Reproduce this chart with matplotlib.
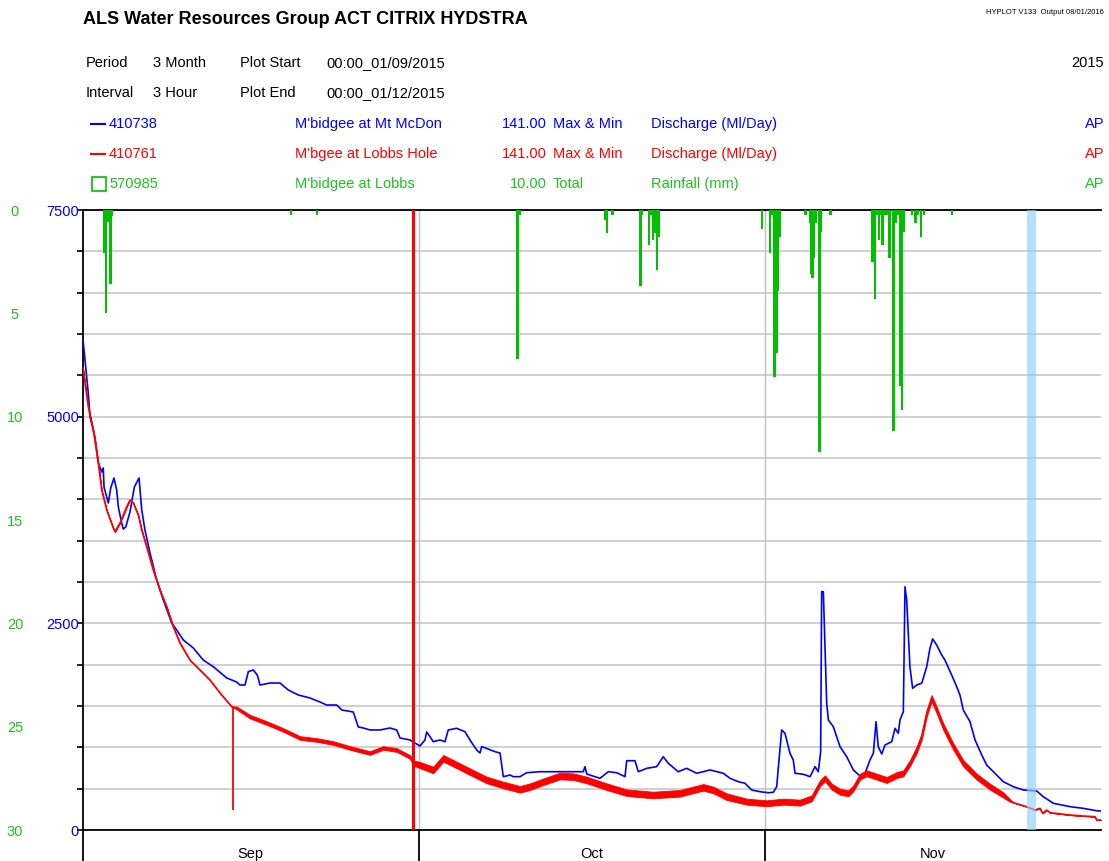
import numpy as np
import matplotlib.pyplot as plt
import matplotlib.ticker as mticker
from matplotlib.lines import Line2D
from matplotlib.patches import Rectangle

plt.rcParams['font.family'] = ['Liberation Sans', 'DejaVu Sans']

# x in days since 00:00 01/09/2015
# 410738 M'bidgee at Mt McDon (Ml/Day)
blue_day = [0.0, 0.47, 0.63, 1.07, 1.37, 1.67, 1.81, 1.88, 2.26, 2.48, 2.77, 3.01, 3.16, 3.46,
            3.60, 3.82, 4.20, 4.59, 5.01, 5.10, 5.25, 5.54, 5.99, 6.59, 7.18, 7.93, 8.38, 8.97,
            9.86, 10.75, 11.65, 12.85, 13.74, 14.03, 14.48, 14.78, 15.22, 15.58, 15.82, 16.72,
            17.61, 18.35, 19.25, 20.29, 21.19, 21.78, 22.68, 23.13, 24.16, 24.61, 25.06, 25.65,
            26.55, 27.44, 28.04, 28.34, 29.23, 30.12, 30.57, 30.72, 31.02, 31.31, 31.91, 32.36,
            32.65, 33.40, 34.15, 34.59, 35.19, 35.49, 35.64, 36.09, 36.83, 37.28, 37.57, 38.17,
            38.47, 39.06, 39.66, 40.85, 43.24, 44.72, 44.87, 45.03, 46.21, 46.96, 47.71, 48.45,
            48.60, 49.34, 49.64, 50.39, 51.28, 51.87, 52.32, 53.21, 53.96, 54.86, 56.05, 57.24,
            57.84, 58.58, 59.18, 59.77, 60.52, 61.26, 61.71, 62.01, 62.15, 62.46, 62.75, 63.20,
            63.49, 63.65, 64.39, 64.99, 65.44, 65.73, 65.94, 66.03, 66.18, 66.48, 66.63, 67.07,
            67.67, 68.27, 68.86, 69.46, 69.91, 70.35, 70.65, 70.89, 71.09, 71.40, 71.69, 72.29,
            72.59, 72.88, 73.03, 73.33, 73.48, 73.63, 73.92, 74.16, 74.52, 74.97, 75.11, 75.42,
            75.71, 75.95, 76.31, 76.76, 77.05, 77.65, 78.10, 78.39, 78.69, 79.29, 79.74, 80.34,
            80.78, 81.52, 82.27, 83.16, 84.06, 85.25, 85.84, 86.74, 88.23, 89.42, 90.61, 91.0]
blue_q = [5930, 5286, 4996, 4754, 4440, 4331, 4379, 4149, 3956, 4137, 4258, 4113, 3907, 3714,
          3641, 3665, 3847, 4149, 4258, 4113, 3871, 3629, 3351, 3024, 2782, 2504, 2419, 2298,
          2202, 2056, 1975, 1839, 1790, 1754, 1754, 1915, 1936, 1875, 1754, 1778,
          1778, 1694, 1633, 1597, 1548, 1512, 1512, 1452, 1427, 1246, 1234, 1210,
          1210, 1234, 1210, 1113, 1089, 1016, 1089, 1186, 1129, 1068, 1089, 1068,
          1210, 1230, 1189, 1089, 968, 931, 1008, 986, 947, 931, 645, 665,
          645, 645, 693, 705, 705, 705, 766, 677, 625, 705, 693, 645,
          838, 838, 705, 746, 766, 887, 807, 705, 746, 686, 726, 686,
          625, 584, 565, 484, 463, 451, 456, 524, 746, 1210, 1170, 928,
          847, 686, 674, 645, 766, 705, 947, 2883, 2883, 1533, 1331, 1250,
          1008, 887, 726, 653, 686, 847, 928, 1310, 1008, 919, 1028, 1068,
          1230, 1170, 1331, 1431, 2943, 2782, 1975, 1714, 1754, 1775, 1835, 1975,
          2198, 2311, 2238, 2117, 2056, 1875, 1734, 1633, 1452, 1310, 1089, 907,
          786, 686, 584, 524, 484, 472, 403, 323, 282, 262, 233, 230]

# 410761 M'bgee at Lobbs Hole (Ml/Day): mid value and half of max-min range
red_day = [0.0, 0.47, 0.92, 1.37, 1.67, 2.12, 2.71, 2.86, 3.31, 3.91, 4.20, 4.50, 4.94, 5.25,
           5.69, 6.28, 6.88, 7.48, 8.07, 8.67, 9.56, 10.46, 11.35, 12.25, 13.29, 13.74, 14.93,
           16.42, 17.90, 19.40, 20.89, 22.37, 23.87, 25.65, 26.84, 28.04, 29.23, 29.53, 30.12,
           31.31, 32.21, 33.10, 34.59, 36.09, 37.57, 39.06, 39.96, 41.15, 42.64, 43.83, 45.03,
           46.81, 48.60, 50.98, 53.37, 55.45, 56.34, 57.54, 59.33, 61.11, 62.60, 64.09, 65.14,
           65.88, 66.33, 66.93, 67.67, 68.41, 68.86, 69.46, 70.05, 70.95, 71.84, 72.74, 73.33,
           73.92, 74.52, 74.97, 75.42, 75.86, 76.31, 76.90, 77.80, 78.69, 79.89, 81.08, 82.27,
           82.80, 83.16, 84.35, 85.10, 85.54, 85.79, 86.15, 86.44, 88.23, 89.42, 90.46, 90.61, 91.0]
red_q = [5589, 5121, 4839, 4440, 4113, 3871, 3653, 3609, 3714, 3911, 3992, 3956, 3811, 3629,
         3427, 3145, 2903, 2702, 2459, 2262, 2056, 1935, 1815, 1657, 1492, 1476, 1371,
         1294, 1210, 1113, 1089, 1052, 992, 931, 992, 968, 883, 810, 786,
         726, 867, 807, 705, 605, 544, 492, 524, 584, 653, 645, 605,
         524, 451, 423, 444, 516, 484, 403, 343, 323, 343, 331, 383,
         565, 625, 524, 463, 444, 504, 645, 686, 645, 605, 665, 686,
         807, 968, 1129, 1411, 1593, 1452, 1250, 1008, 807, 645, 524, 423,
         363, 331, 282, 242, 262, 202, 242, 209, 181, 169, 161, 121, 121]
red_half = [0, 0, 0, 0, 0, 0, 0, 0, 0, 0, 0, 0, 0, 0,
            0, 0, 0, 0, 0, 0, 0, 0, 0, 0, 0, 18, 22,
            22, 22, 22, 22, 22, 22, 22, 22, 22, 22, 30, 38,
            40, 40, 40, 40, 40, 40, 40, 40, 40, 40, 40, 40,
            40, 40, 40, 40, 40, 40, 40, 36, 36, 36, 36, 36,
            36, 36, 36, 36, 36, 36, 36, 36, 36, 36, 36, 36,
            36, 40, 40, 40, 40, 40, 40, 40, 40, 36, 36, 32,
            18, 0, 0, 0, 0, 0, 0, 0, 0, 0, 0, 0, 0]
# single-interval spikes in 410761
spike_day = [13.40, 29.47]
spike_lo = [242, 0]
spike_hi = [1490, 7600]

# 570985 M'bidgee at Lobbs rainfall (mm)
rain_day = [1.88, 1.97, 2.06, 2.19, 2.32, 2.46, 2.59, 18.59, 20.92, 38.84, 39.06,
            46.66, 46.84, 47.33, 49.83, 49.97, 50.59, 50.77, 50.95, 51.13, 51.31, 51.49,
            60.70, 61.41, 61.59, 61.81, 61.97, 62.13, 62.26,
            64.58, 64.98, 65.07, 65.19, 65.34, 65.52, 65.82, 65.97, 66.80,
            70.57, 70.71, 70.80, 70.97, 71.15, 71.33, 71.47, 71.69, 71.87, 72.09, 72.45,
            72.63, 72.85, 73.06, 73.21, 73.34, 74.10, 74.41, 74.64, 74.91, 75.18, 77.68]
rain_mm = [2.1, 0.6, 5.0, 0.6, 0.5, 3.6, 0.3, 0.25, 0.25, 7.2, 0.25,
           0.5, 1.1, 0.25, 3.7, 0.25, 1.7, 0.25, 1.45, 1.1, 2.9, 1.3,
           0.9, 2.1, 0.25, 8.1, 6.9, 3.9, 1.3,
           0.25, 0.65, 3.1, 3.3, 2.3, 0.65, 11.7, 1.05, 0.25,
           2.5, 0.5, 4.3, 0.25, 1.45, 0.25, 1.7, 0.25, 0.25, 2.3, 10.7,
           0.65, 0.25, 8.5, 9.7, 1.05, 0.25, 0.65, 0.25, 1.3, 0.25, 0.25]

month_start = [0, 30, 61, 91]
month_names = ['Sep', 'Oct', 'Nov']

BLUE = '#0000ff'
RED = '#ff0000'
GREEN_TXT = '#20c020'
GREEN_BAR = '#00c000'

W, H = 1109, 861
fig = plt.figure(figsize=(W / 100, H / 100), dpi=100)
ax = fig.add_axes([83 / W, 31 / H, 1018 / W, 620 / H])

ax.set_xlim(0, 91)
ax.set_ylim(0, 7500)

# grid
ax.yaxis.set_major_locator(mticker.MultipleLocator(500))
ax.yaxis.set_major_formatter(mticker.FuncFormatter(lambda v, p: f'{v:.0f}' if v % 2500 == 0 else ''))
ax.grid(axis='y', color='#cccccc', lw=1.3)
for d in month_start[1:3]:
    ax.axvline(d, color='#c0c0c0', lw=1.0, zorder=1)
ax.set_axisbelow(True)

ax.tick_params(axis='y', direction='out', length=4, width=1.2, colors='black',
               labelcolor=BLUE, labelsize=10.5, pad=-1)

ax.set_xticks([(a + b) / 2 for a, b in zip(month_start[:-1], month_start[1:])])
ax.set_xticklabels(month_names)
ax.set_xticks(month_start[:-1], minor=True)
ax.tick_params(axis='x', which='major', length=0, labelsize=10.5, pad=12)
ax.tick_params(axis='x', which='minor', direction='out', length=23, width=1.3, color='black')

for s in ['left', 'bottom', 'top']:
    ax.spines[s].set_linewidth(1.3)
ax.spines['right'].set_visible(False)

# discharge
ax.plot(blue_day, blue_q, color=BLUE, lw=1.2, zorder=3)
rq = np.array(red_q, dtype=float)
rh = np.array(red_half, dtype=float)
ax.fill_between(red_day, rq - rh, rq + rh, color=RED, lw=0.6, zorder=4)
ax.plot(red_day, red_q, color=RED, lw=1.2, zorder=4)
ax.vlines(spike_day, spike_lo, spike_hi, colors=RED, lw=[1.3, 2.2], zorder=4)

# rainfall, inverted scale on the same frame
ax2 = ax.twinx()
ax2.set_ylim(30, 0)
ax2.bar(rain_day, rain_mm, width=0.24, color=GREEN_BAR, lw=0, align='center')
ax2.set_yticks(range(0, 31, 5))
ax2.yaxis.tick_left()
ax2.tick_params(axis='y', length=0, labelcolor=GREEN_TXT, labelsize=10.5, pad=49)
for lab in ax2.get_yticklabels():
    lab.set_horizontalalignment('center')
for s in ax2.spines.values():
    s.set_visible(False)
ax2.set_xlim(0, 91)

# marker band
ax.axvspan(84.38, 85.19, color='#8fd0f5', alpha=0.65, lw=0, zorder=6)

# header
def ftxt(x, y, s, **kw):
    kw.setdefault('fontsize', 10.5)
    fig.text(x / W, 1 - y / H, s, va='center', **kw)

ftxt(83, 20, 'ALS Water Resources Group ACT CITRIX HYDSTRA', fontsize=13, fontweight='bold')
ftxt(1104, 13, 'HYPLOT V133  Output 08/01/2016', fontsize=5.5, ha='right')
ftxt(86, 63, 'Period')
ftxt(153, 63, '3 Month')
ftxt(240, 63, 'Plot Start')
ftxt(326, 63, '00:00_01/09/2015')
ftxt(1104, 63, '2015', ha='right')
ftxt(86, 93, 'Interval')
ftxt(153, 93, '3 Hour')
ftxt(240, 93, 'Plot End')
ftxt(326, 93, '00:00_01/12/2015')

rows = [(124, BLUE, '410738', "M'bidgee at Mt McDon", '141.00', 'Max & Min', 'Discharge (Ml/Day)'),
        (154, RED, '410761', "M'bgee at Lobbs Hole", '141.00', 'Max & Min', 'Discharge (Ml/Day)'),
        (184, GREEN_TXT, '570985', "M'bidgee at Lobbs", '10.00', 'Total', 'Rainfall (mm)')]
for y, c, site, name, val, kind, var in rows:
    ftxt(109, y, site, color=c)
    ftxt(295, y, name, color=c)
    ftxt(547, y, val, color=c, ha='right')
    ftxt(553, y, kind, color=c)
    ftxt(651, y, var, color=c)
    ftxt(1104, y, 'AP', color=c, ha='right')

for y, c in [(124, BLUE), (154, RED)]:
    fig.add_artist(Line2D([91 / W, 105 / W], [1 - y / H, 1 - y / H], color=c, lw=1.5))
fig.add_artist(Rectangle((92 / W, 1 - 191 / H), 14 / W, 14 / H, fill=False,
                         edgecolor=GREEN_BAR, lw=1.2))

fig.savefig('out.png', dpi=100)
